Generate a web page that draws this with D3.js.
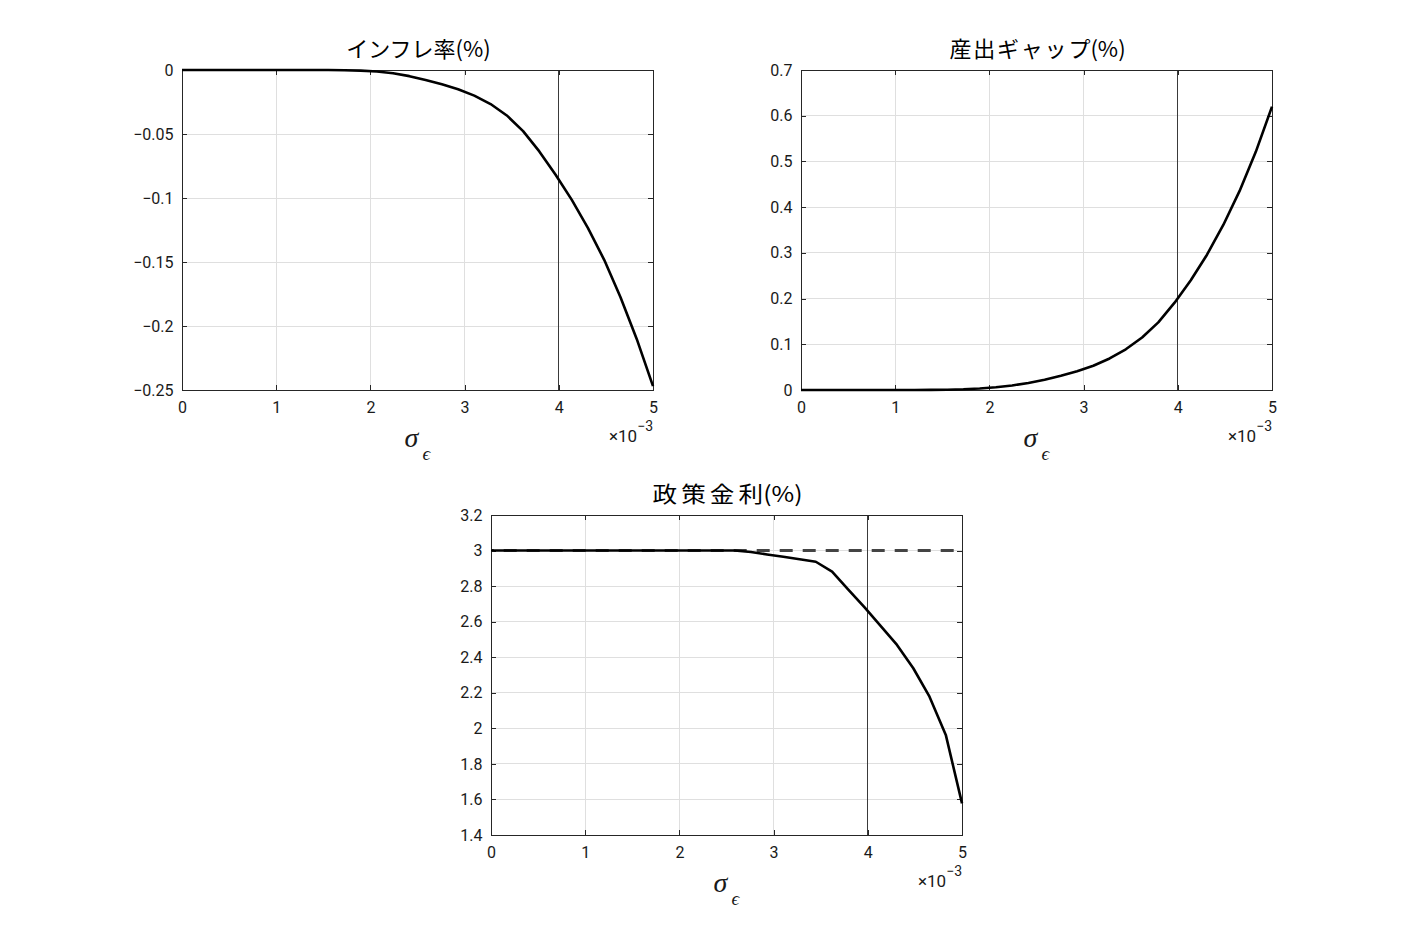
<!DOCTYPE html>
<html>
<head>
<meta charset="utf-8">
<script src="https://cdn.jsdelivr.net/npm/d3@7"></script>
<style>
  html, body { margin: 0; padding: 0; background: #ffffff; }
  svg { display: block; }
</style>
</head>
<body>
<svg id="chart" width="1406" height="938"></svg>
<script>
// ---- data (x in units of 1e-3) ----
const sigma = [0, 0.172, 0.345, 0.517, 0.690, 0.862, 1.034, 1.207, 1.379, 1.552,
               1.724, 1.897, 2.069, 2.241, 2.414, 2.586, 2.759, 2.931, 3.103, 3.276,
               3.448, 3.621, 3.793, 3.966, 4.138, 4.310, 4.483, 4.655, 4.828, 5.000];

const inflation = [0, 0, 0, 0, 0, 0, 0, 0, 0, 0,
                   -0.0002, -0.0005, -0.0012, -0.0025, -0.0048, -0.0078, -0.0112, -0.0150, -0.0200, -0.0266,
                   -0.0355, -0.0478, -0.0636, -0.0818, -0.1015, -0.1235, -0.1485, -0.1775, -0.2103, -0.2470];

const outputGap = [0, 0, 0, 0, 0, 0, 0, 0, 0.0002, 0.0007,
                   0.0016, 0.0033, 0.0060, 0.0100, 0.0155, 0.0225, 0.0310, 0.0410, 0.0530, 0.0690,
                   0.0890, 0.1150, 0.1480, 0.1910, 0.2400, 0.2960, 0.3610, 0.4350, 0.5210, 0.6200];

const policyRate = [3, 3, 3, 3, 3, 3, 3, 3, 3, 3,
                    3, 3, 3, 3, 3, 3, 2.992, 2.978, 2.965, 2.951,
                    2.937, 2.881, 2.780, 2.680, 2.575, 2.469, 2.338, 2.178, 1.963, 1.578];

const refSigma = [0, 5];
const refRate = [3, 3];
const vlineSigma = 4;

const xTicks = [0, 1, 2, 3, 4, 5];
const inflTicks = [0, -0.05, -0.1, -0.15, -0.2, -0.25];
const gapTicks = [0, 0.1, 0.2, 0.3, 0.4, 0.5, 0.6, 0.7];
const rateTicks = [1.4, 1.6, 1.8, 2, 2.2, 2.4, 2.6, 2.8, 3, 3.2];

// title split: [spaced part, rest]
const titles = [["インフレ", "率(%)"], ["産出ギャッ", "プ(%)"], ["政策金", "利(%)"]];

// ---- layout ----
const svg = d3.select("#chart");
svg.append("rect").attr("width", 1406).attr("height", 938).attr("fill", "#fff");

const numFont = "Roboto, 'Liberation Sans', Arial, sans-serif";
const cjkFont = "'Noto Sans CJK JP', 'Noto Sans CJK SC', sans-serif";
const axisColor = "#262626";
const textColor = "#1a1a1a";

const panels = [
  { box: {l: 182, r: 653, t: 70, b: 390}, domain: [-0.25, 0], ticks: inflTicks, y: inflation, title: titles[0], ls: 0, sx: 1 },
  { box: {l: 801, r: 1272, t: 70, b: 390}, domain: [0, 0.7], ticks: gapTicks, y: outputGap, title: titles[1], ls: 1.8, sx: 1 },
  { box: {l: 491, r: 962, t: 515, b: 835}, domain: [1.4, 3.2], ticks: rateTicks, y: policyRate, title: titles[2], ls: 3.6, sx: 1.12, ref: true }
];

const fmt = d3.format("~g");

panels.forEach(p => {
  const B = p.box;
  const x = d3.scaleLinear().domain([0, 5]).range([B.l, B.r]);
  const y = d3.scaleLinear().domain(p.domain).range([B.b, B.t]);
  const g = svg.append("g");

  // grid
  g.append("g").selectAll("line").data(xTicks).join("line")
    .attr("x1", d => x(d)).attr("x2", d => x(d)).attr("y1", B.t).attr("y2", B.b)
    .attr("stroke", "#dfdfdf").attr("stroke-width", 1).attr("shape-rendering", "crispEdges");
  g.append("g").selectAll("line").data(p.ticks).join("line")
    .attr("x1", B.l).attr("x2", B.r).attr("y1", d => y(d)).attr("y2", d => y(d))
    .attr("stroke", "#dfdfdf").attr("stroke-width", 1).attr("shape-rendering", "crispEdges");

  // vertical reference line at 4e-3
  g.append("line")
    .attr("x1", x(vlineSigma)).attr("x2", x(vlineSigma)).attr("y1", B.t).attr("y2", B.b)
    .attr("stroke", "#3a3a3a").attr("stroke-width", 1).attr("shape-rendering", "crispEdges");

  // axes (ticks inward on all four sides)
  const ax = [
    g.append("g").attr("transform", `translate(0,${B.b})`)
      .call(d3.axisBottom(x).tickValues(xTicks).tickSize(-5).tickPadding(12).tickFormat(fmt)),
    g.append("g").attr("transform", `translate(0,${B.t})`)
      .call(d3.axisTop(x).tickValues(xTicks).tickSize(-5).tickFormat("")),
    g.append("g").attr("transform", `translate(${B.l},0)`)
      .call(d3.axisLeft(y).tickValues(p.ticks).tickSize(-5).tickPadding(8.5).tickFormat(fmt)),
    g.append("g").attr("transform", `translate(${B.r},0)`)
      .call(d3.axisRight(y).tickValues(p.ticks).tickSize(-5).tickFormat(""))
  ];
  ax.forEach(a => {
    a.select(".domain").remove();
    a.selectAll(".tick line").attr("stroke", axisColor).attr("shape-rendering", "crispEdges");
    a.selectAll(".tick text").attr("fill", textColor).style("font-family", numFont).style("font-size", "16px");
  });

  // box
  g.append("rect").attr("x", B.l).attr("y", B.t).attr("width", B.r - B.l).attr("height", B.b - B.t)
    .attr("fill", "none").attr("stroke", axisColor).attr("stroke-width", 1).attr("shape-rendering", "crispEdges");

  // reference dashed line
  if (p.ref) {
    const refLine = d3.line().x((d, i) => x(refSigma[i])).y(d => y(d));
    g.append("path").datum(refRate).attr("d", refLine)
      .attr("fill", "none").attr("stroke", "#444").attr("stroke-width", 3)
      .attr("stroke-dasharray", "13,10").attr("stroke-dashoffset", 10.3);
  }

  // main curve
  const line = d3.line().x((d, i) => x(sigma[i])).y(d => y(d));
  g.append("path").datum(p.y).attr("d", line)
    .attr("fill", "none").attr("stroke", "#000").attr("stroke-width", 2.6)
    .attr("stroke-linejoin", "round");

  // title
  const cx = (B.l + B.r) / 2 + 1;
  const tt = g.append("text")
    .attr("transform", `translate(${cx},${B.t - 13.5}) scale(${p.sx},1)`)
    .attr("text-anchor", "middle")
    .style("font-family", cjkFont).style("font-size", "22px").attr("fill", "#000");
  tt.append("tspan").style("letter-spacing", p.ls + "px").text(p.title[0]);
  tt.append("tspan").text(p.title[1]);

  // x label sigma_epsilon
  const mid = (B.l + B.r) / 2;
  g.append("text").attr("x", mid - 13).attr("y", B.b + 56.5)
    .style("font-family", "'Liberation Serif', 'DejaVu Serif', serif").style("font-style", "italic")
    .style("font-size", "28px").attr("fill", textColor).text("σ");
  g.append("text").attr("x", mid + 5).attr("y", B.b + 70)
    .style("font-family", "'Liberation Serif', 'DejaVu Serif', serif").style("font-style", "italic")
    .style("font-size", "19px").attr("fill", textColor).text("ϵ");

  // exponent label
  const ex = g.append("text").attr("x", B.r).attr("y", B.b + 51.5)
    .attr("text-anchor", "end").style("font-family", numFont).attr("fill", textColor);
  ex.append("tspan").style("font-size", "17px").text("×10");
  ex.append("tspan").attr("dy", -11).style("font-size", "14px").text("−3");
});
</script>
</body>
</html>
